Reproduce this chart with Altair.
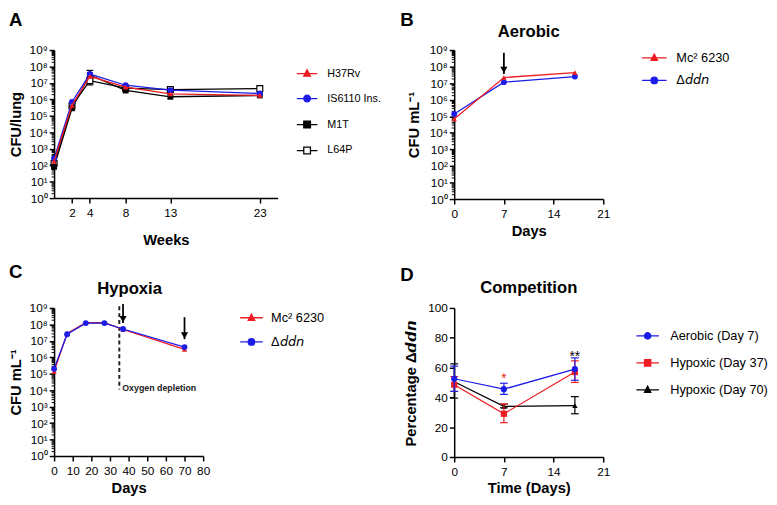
import altair as alt
import numpy as np
import pandas as pd

FONT = "Liberation Sans"
RED = "#ee1d23"
BLUE = "#1c1ce8"
BLACK = "#000000"

# ---------------- Panel A (log10 CFU/lung) ----------------
a_weeks = [0, 2, 4, 8, 13, 23]
a_names = ["H37Rv", "IS6110 Ins.", "M1T", "L64P"]
a_h37rv = [2.24, 5.64, 7.40, 6.74, 6.34, 6.24]
a_is6110 = [2.40, 5.84, 7.54, 6.86, 6.56, 6.36]
a_m1t = [1.90, 5.46, 7.48, 6.54, 6.16, 6.24]
a_l64p = [2.10, 5.60, 7.14, 6.68, 6.60, 6.66]
a_err_names = ["M1T", "L64P"]
a_err_weeks = [4, 4]
a_err_lo = [7.30, 6.88]
a_err_hi = [7.76, 7.30]
a_xticks = [2, 4, 8, 13, 23]

# ---------------- Panel B (log10 CFU/mL, aerobic) ----------------
b_days = [0, 7, 17]
b_names = ["Mc² 6230", "Δ𝘥𝘥𝘯"]
b_mc = [4.84, 7.34, 7.64]
b_ddn = [5.14, 7.06, 7.40]
b_arrow_days = [7]
b_arrow_top = [8.84]
b_arrow_tip = [7.56]

# ---------------- Panel C (log10 CFU/mL, hypoxia) ----------------
c_days = [0, 7, 17, 27, 37, 70]
c_mc = [5.14, 7.45, 8.10, 8.10, 7.70, 6.48]
c_ddn = [5.30, 7.40, 8.08, 8.08, 7.72, 6.62]
c_arrow_days = [37, 70]
c_arrow_top = [9.24, 8.44]
c_arrow_tip = [8.08, 7.10]
c_depl_day = [35]
c_depl_top = [9.10]
c_depl_bottom = [4.04]
c_depl_label = ["Oxygen depletion"]

# ---------------- Panel D (percentage) ----------------
d_days = [0, 7, 17]
d_names = ["Aerobic (Day 7)", "Hypoxic (Day 37)", "Hypoxic (Day 70)"]
d_aer = [52.5, 45.5, 59.0]
d_aer_lo = [44.0, 42.0, 51.5]
d_aer_hi = [61.0, 49.5, 66.5]
d_h37 = [48.5, 29.0, 57.0]
d_h37_lo = [44.0, 23.0, 50.0]
d_h37_hi = [54.0, 35.5, 64.5]
d_h70 = [50.5, 34.0, 34.5]
d_h70_lo = [39.5, 33.0, 29.0]
d_h70_hi = [62.5, 35.5, 40.5]
d_star_days = [7, 17]
d_star_y = [54.5, 69.0]
d_star_text = ["*", "**"]

# ---------------- helpers ----------------
SUPS = ["⁰", "¹", "²", "³", "⁴", "⁵", "⁶", "⁷", "⁸", "⁹"]
MAJOR = list(range(10))
MINOR = [round(n + float(np.log10(k)), 4) for n in range(9) for k in range(2, 10)]
IS_MAJOR = "datum.value == round(datum.value)"
SUP_JS = "[" + ",".join("'%s'" % s for s in SUPS) + "]"


def log_axis(title, title_x):
    return alt.Axis(
        values=MAJOR + MINOR,
        labelExpr=f"{IS_MAJOR} ? '10' + {SUP_JS}[datum.value] : ''",
        tickSize={"condition": {"test": IS_MAJOR, "value": 5}, "value": 3},
        tickWidth={"condition": {"test": IS_MAJOR, "value": 1.5}, "value": 1},
        title=title, titleX=title_x, titleBaseline="middle", labelOverlap=False,
    )


def series_layers(xs, ys, X, Y, color, shape, size, fill=None, width=1.3):
    df = pd.DataFrame({"x": xs, "y": ys})
    line = alt.Chart(df).mark_line(color=color, strokeWidth=width).encode(x=X("x"), y=Y("y"))
    if fill is None:
        pts = alt.Chart(df).mark_point(shape=shape, size=size, filled=True, color=color, opacity=1)
    else:
        pts = alt.Chart(df).mark_point(shape=shape, size=size, filled=True, fill=fill,
                                       stroke=color, strokeWidth=1.2, opacity=1)
    return [line, pts.encode(x=X("x"), y=Y("y"))]


def error_layers(xs, lo, hi, X, Y, color, cap=8):
    df = pd.DataFrame({"x": xs, "lo": lo, "hi": hi})
    rule = alt.Chart(df).mark_rule(color=color, strokeWidth=1.2).encode(
        x=X("x"), y=Y("lo"), y2=alt.Y2("hi"))
    t1 = alt.Chart(df).mark_tick(orient="horizontal", size=cap, thickness=1.2, color=color,
                                 opacity=1).encode(x=X("x"), y=Y("lo"))
    t2 = alt.Chart(df).mark_tick(orient="horizontal", size=cap, thickness=1.2, color=color,
                                 opacity=1).encode(x=X("x"), y=Y("hi"))
    return [rule, t1, t2]


def legend_paths(size, r_px, kinds):
    half = float(np.sqrt(size)) / 2
    r = r_px / half
    out = []
    for k in kinds:
        line = "M-1,0L1,0"
        if k == "triangle":
            p = f"{line}M0,{-1.15*r:.3f}L{r:.3f},{0.8*r:.3f}L{-r:.3f},{0.8*r:.3f}Z"
        elif k == "circle":
            p = (f"{line}M{-r:.3f},0A{r:.3f},{r:.3f},0,1,0,{r:.3f},0"
                 f"A{r:.3f},{r:.3f},0,1,0,{-r:.3f},0Z")
        elif k == "square":
            p = f"{line}M{-r:.3f},{-r:.3f}L{r:.3f},{-r:.3f}L{r:.3f},{r:.3f}L{-r:.3f},{r:.3f}Z"
        else:  # open square: line interrupted
            p = (f"M-1,0L{-r:.3f},0M{r:.3f},0L1,0"
                 f"M{-r:.3f},{-r:.3f}L{r:.3f},{-r:.3f}L{r:.3f},{r:.3f}L{-r:.3f},{r:.3f}Z")
        out.append(p)
    return out


def legend_layer(names, paths, fills, strokes, legend):
    df = pd.DataFrame({"name": names})

    def sc(rng):
        return alt.Scale(domain=names, range=rng)

    return alt.Chart(df).mark_point(opacity=1).encode(
        shape=alt.Shape("name:N", scale=sc(paths), legend=legend),
        fill=alt.Fill("name:N", scale=sc(fills), legend=legend),
        stroke=alt.Stroke("name:N", scale=sc(strokes), legend=legend),
    ).transform_filter("false")


def make_legend(x, y, size, fs, row_pad, label_offset):
    return alt.Legend(title=None, orient="none", legendX=x, legendY=y, symbolSize=size,
                      symbolStrokeWidth=1.3, labelFontSize=fs, labelFont=FONT,
                      labelColor="black", rowPadding=row_pad, labelOffset=label_offset,
                      padding=0)


def text_layer(txt, x, y, fs, align="left", baseline="alphabetic", weight="bold"):
    return alt.Chart(pd.DataFrame({"t": [txt]})).mark_text(
        fontSize=fs, fontWeight=weight, font=FONT, color="black", align=align,
        baseline=baseline).encode(text="t:N", x=alt.value(x), y=alt.value(y))


def arrow_layers(days, top, tip, X, Y):
    df = pd.DataFrame({"x": days, "top": top, "tip": tip})
    rule = alt.Chart(df).mark_rule(color="black", strokeWidth=1.8).encode(
        x=X("x"), y=Y("top"), y2=alt.Y2("tip"))
    head = alt.Chart(df).mark_point(shape="triangle-down", size=55, filled=True,
                                    color="black", opacity=1, yOffset=-4).encode(
        x=X("x"), y=Y("tip"))
    return [rule, head]


ylog_scale = alt.Scale(domain=[0, 9], nice=False, zero=False)

# ---------------- Panel A ----------------
xA_scale = alt.Scale(domain=[0, 25], nice=False, zero=False)
axXA = alt.Axis(values=a_xticks, title="Weeks", titleY=42, titleBaseline="middle")
axYA = log_axis("CFU/lung", -39.5)


def XA(f):
    return alt.X(f"{f}:Q", scale=xA_scale, axis=axXA)


def YA(f):
    return alt.Y(f"{f}:Q", scale=ylog_scale, axis=axYA)


layersA = []
layersA += error_layers(a_err_weeks, a_err_lo, a_err_hi, XA, YA, BLACK, cap=7)
layersA += series_layers(a_weeks, a_l64p, XA, YA, BLACK, "square", 36, fill="white")
layersA += series_layers(a_weeks, a_m1t, XA, YA, BLACK, "square", 36)
layersA += series_layers(a_weeks, a_is6110, XA, YA, BLUE, "circle", 38)
layersA += series_layers(a_weeks, a_h37rv, XA, YA, RED, "triangle-up", 32)
legA = make_legend(246.5, 12.5, 441, 11, 8.5, 9)
layersA.append(legend_layer(a_names, legend_paths(441, 3.4, ["triangle", "circle", "square", "osquare"]),
                            [RED, BLUE, BLACK, "white"], [RED, BLUE, BLACK, BLACK], legA))
layersA.append(text_layer("A", -46, -25, 19))
pA = alt.layer(*layersA).properties(width=228, height=151)

# ---------------- Panel B ----------------
xB_scale = alt.Scale(domain=[0, 21], nice=False, zero=False)
axXB = alt.Axis(values=[0, 7, 14, 21], title="Days", titleY=32, titleBaseline="middle")
axYB = log_axis("CFU mL⁻¹", -41)


def XB(f):
    return alt.X(f"{f}:Q", scale=xB_scale, axis=axXB)


def YB(f):
    return alt.Y(f"{f}:Q", scale=ylog_scale, axis=axYB)


layersB = []
layersB += series_layers(b_days, b_ddn, XB, YB, BLUE, "circle", 36)
layersB += series_layers(b_days, b_mc, XB, YB, RED, "triangle-up", 30)
layersB += arrow_layers(b_arrow_days, b_arrow_top, b_arrow_tip, XB, YB)
legB = make_legend(190.5, -5.5, 625, 13, 2, 9)
layersB.append(legend_layer(b_names, legend_paths(625, 3.3, ["triangle", "circle"]),
                            [RED, BLUE], [RED, BLUE], legB))
layersB.append(text_layer("B", -55, -25, 19))
layersB.append(text_layer("Aerobic", 76, -13, 17, align="center"))
pB = alt.layer(*layersB).properties(width=152, height=152)

# ---------------- Panel C ----------------
xC_scale = alt.Scale(domain=[0, 80], nice=False, zero=False)
axXC = alt.Axis(values=list(range(0, 81, 10)), title="Days", titleY=32.5, titleBaseline="middle")
axYC = log_axis("CFU mL⁻¹", -39.5)


def XC(f):
    return alt.X(f"{f}:Q", scale=xC_scale, axis=axXC)


def YC(f):
    return alt.Y(f"{f}:Q", scale=ylog_scale, axis=axYC)


layersC = []
dfDepl = pd.DataFrame({"x": c_depl_day, "top": c_depl_top, "bot": c_depl_bottom, "t": c_depl_label})
layersC.append(alt.Chart(dfDepl).mark_rule(color="#222222", strokeWidth=2, strokeDash=[4, 3]).encode(
    x=XC("x"), y=YC("top"), y2=alt.Y2("bot")))
layersC.append(alt.Chart(dfDepl).mark_text(font=FONT, fontSize=9, fontWeight="bold", color="#222222",
                                           align="left", baseline="middle", dx=3, dy=-2).encode(
    x=XC("x"), y=YC("bot"), text="t:N"))
layersC += series_layers(c_days, c_mc, XC, YC, RED, "triangle-up", 30)
layersC += series_layers(c_days, c_ddn, XC, YC, BLUE, "circle", 36)
layersC += arrow_layers(c_arrow_days, c_arrow_top, c_arrow_tip, XC, YC)
legC = make_legend(188.75, -2.5, 529, 13, 4.6, 7.5)
layersC.append(legend_layer(b_names, legend_paths(529, 3.3, ["triangle", "circle"]),
                            [RED, BLUE], [RED, BLUE], legC))
layersC.append(text_layer("C", -46, -31, 19))
layersC.append(text_layer("Hypoxia", 77, -14.5, 17, align="center"))
pC = alt.layer(*layersC).properties(width=152, height=151)

# ---------------- Panel D ----------------
xD_scale = alt.Scale(domain=[0, 21], nice=False, zero=False)
yD_scale = alt.Scale(domain=[0, 100], nice=False, zero=False)
axXD = alt.Axis(values=[0, 7, 14, 21], title="Time (Days)", titleY=31.5, titleBaseline="middle")
axYD = alt.Axis(values=[0, 20, 40, 60, 80, 100], title="Percentage Δ𝙙𝙙𝙣", titleX=-44,
                titleBaseline="middle")


def XD(f):
    return alt.X(f"{f}:Q", scale=xD_scale, axis=axXD)


def YD(f):
    return alt.Y(f"{f}:Q", scale=yD_scale, axis=axYD)


layersD = []
layersD += error_layers(d_days, d_h70_lo, d_h70_hi, XD, YD, BLACK)
layersD += series_layers(d_days, d_h70, XD, YD, BLACK, "triangle-up", 30)
layersD += error_layers(d_days, d_h37_lo, d_h37_hi, XD, YD, RED)
layersD += series_layers(d_days, d_h37, XD, YD, RED, "square", 40)
layersD += error_layers(d_days, d_aer_lo, d_aer_hi, XD, YD, BLUE)
layersD += series_layers(d_days, d_aer, XD, YD, BLUE, "circle", 40)
for dd, yy, tt, cc in zip(d_star_days, d_star_y, d_star_text, [RED, BLACK]):
    dfS = pd.DataFrame({"x": [dd], "y": [yy], "t": [tt]})
    layersD.append(alt.Chart(dfS).mark_text(font=FONT, fontSize=14, color=cc, baseline="middle",
                                            dy=3).encode(x=XD("x"), y=YD("y"), text="t:N"))
legD = make_legend(184.75, 16, 529, 13, 7.5, 10.5)
layersD.append(legend_layer(d_names, legend_paths(529, 3.2, ["circle", "square", "triangle"]),
                            [BLUE, RED, BLACK], [BLUE, RED, BLACK], legD))
layersD.append(text_layer("D", -55, -27, 19))
layersD.append(text_layer("Competition", 76, -15, 17, align="center"))
pD = alt.layer(*layersD).properties(width=152, height=152)

chart = alt.concat(
    pA, pB, pC, pD, columns=2, spacing={"row": 111, "column": 180}, bounds="flush", align="each"
).resolve_scale(
    shape="independent", fill="independent", stroke="independent"
).properties(
    padding={"left": 0, "top": -2, "right": 0, "bottom": 0}
).configure(font=FONT).configure_view(stroke=None).configure_axis(
    domainColor="black", domainWidth=1.5, tickColor="black", tickWidth=1.5, tickSize=5,
    labelColor="black", labelFont=FONT, labelFontSize=12, titleFont=FONT, titleFontSize=15,
    titleFontWeight="bold", titleColor="black", grid=False, labelFlush=False, labelPadding=2,
).configure_axisX(labelPadding=5)

chart.save("out.html", embed_options={"renderer": "svg", "actions": False})
